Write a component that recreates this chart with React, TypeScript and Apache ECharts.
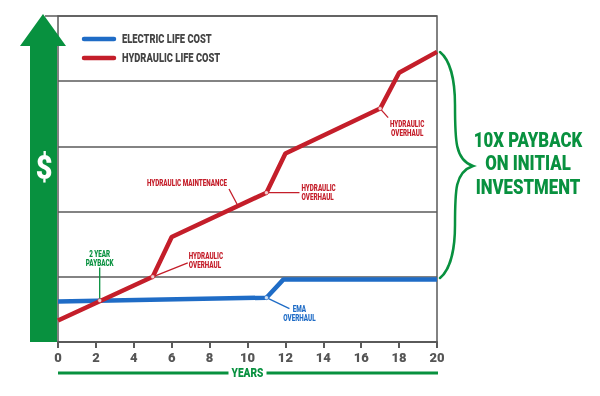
import React, { useEffect, useRef } from "react";
import * as echarts from "echarts";

const hydraulicX = [0, 5, 6, 11, 12, 17, 18, 20];
const hydraulicY = [0.33, 1.0, 1.61, 2.29, 2.89, 3.58, 4.13, 4.45];
const electricX = [0, 11, 11.9, 20];
const electricY = [0.62, 0.68, 0.96, 0.96];
const hydraulicMarkers = [1, 3, 5];
const electricMarkers = [1];
const paybackPoint = [2.2, 0.635];
const xTicks = [0, 2, 4, 6, 8, 10, 12, 14, 16, 18, 20];
const seriesNames = ["ELECTRIC LIFE COST", "HYDRAULIC LIFE COST"];

const RED = "#c41e2a";
const BLUE = "#1f6cc6";
const GREEN = "#08913f";
const GREY = "#5a5a5a";
const FONT = "Roboto, 'Liberation Sans', sans-serif";
const W = "900";

const bracePath =
  "M440,52 C450,60 455,80 455,105 C455,140 455,160 473,166 C455,172 455,190 455,225 C455,250 450,270 440,278";
echarts.graphic.registerShape("brace", echarts.graphic.extendPath(bracePath, {}) as any);

export default function App() {
  const ref = useRef<HTMLDivElement>(null);
  useEffect(() => {
    if (!ref.current) return;
    const chart = echarts.init(ref.current, null, { renderer: "svg" });
    const hData = hydraulicX.map((x, i) => [x, hydraulicY[i]]);
    const eData = electricX.map((x, i) => [x, electricY[i]]);
    chart.setOption({
      animation: false,
      grid: {
        left: 58,
        right: 163,
        top: 16,
        bottom: 54,
        show: true,
        borderColor: GREY,
        borderWidth: 1.5,
      },
      xAxis: {
        type: "value",
        min: 0,
        max: 20,
        interval: 2,
        axisLine: { lineStyle: { color: GREY, width: 2 } },
        axisTick: { show: true, length: 6, lineStyle: { color: GREY, width: 2 } },
        axisLabel: {
          margin: 9,
          fontFamily: FONT,
          fontWeight: W,
          fontSize: 13,
          color: "#555",
          formatter: (v: number) => (xTicks.includes(v) ? String(v) : ""),
        },
        splitLine: { show: false },
      },
      yAxis: {
        type: "value",
        min: 0,
        max: 5,
        interval: 1,
        axisLine: { show: false },
        axisTick: { show: false },
        axisLabel: { show: false },
        splitLine: { show: true, lineStyle: { color: GREY, width: 1.5 } },
      },
      series: [
        {
          name: seriesNames[0],
          type: "line",
          data: eData,
          symbol: "none",
          color: BLUE,
          lineStyle: { width: 4.5, color: BLUE },
          z: 3,
        },
        {
          name: seriesNames[1],
          type: "line",
          data: hData,
          symbol: "none",
          color: RED,
          lineStyle: { width: 4.5, color: RED },
          z: 4,
        },
        {
          type: "scatter",
          data: hydraulicMarkers.map((i) => hData[i]).concat([paybackPoint]),
          symbol: "circle",
          symbolSize: 4,
          itemStyle: { color: "#fff", borderColor: RED, borderWidth: 0.8 },
          z: 6,
        },
        {
          type: "scatter",
          data: electricMarkers.map((i) => eData[i]),
          symbol: "circle",
          symbolSize: 4,
          itemStyle: { color: "#fff", borderColor: BLUE, borderWidth: 0.8 },
          z: 6,
        },
      ],
    });

    const px = (p: number[]) => chart.convertToPixel({ gridIndex: 0 }, p) as number[];
    const text = (
      x: number,
      y: number,
      t: string,
      color: string,
      size: number,
      sx: number,
      align: string = "center",
      lineHeight?: number
    ) => ({
      type: "text",
      x,
      y,
      z: 20,
      scaleX: sx,
      style: {
        text: t,
        fill: color,
        font: `${W} ${size}px ${FONT}`,
        align,
        verticalAlign: "middle",
        lineHeight: lineHeight ?? size,
      },
    });
    const annText = (x: number, y: number, t: string, color: string, align: string = "center") =>
      text(x, y, t, color, 9, 0.7, align, 9);
    const annLine = (a: number[], b: number[], color: string) => ({
      type: "line",
      z: 5,
      shape: { x1: a[0], y1: a[1], x2: b[0], y2: b[1] },
      style: { stroke: color, lineWidth: 1.3 },
    });

    const pPay = px(paybackPoint);
    const pH5 = px(hData[1]);
    const pMaint = px([9.5, hydraulicY[2] + (hydraulicY[3] - hydraulicY[2]) * 0.7]);
    const pH11 = px(hData[3]);
    const pH17 = px(hData[5]);
    const pE11 = px(eData[1]);
    const xL = px([0, 0]);
    const xR = px([20, 0]);
    const yTop = px([0, 5]);

    const legendColors = [BLUE, RED];
    const legendItems = seriesNames.flatMap((name, i) => {
      const y = 39 + i * 19;
      return [
        {
          type: "line",
          z: 20,
          shape: { x1: 84, y1: y, x2: 114, y2: y },
          style: { stroke: legendColors[i], lineWidth: 4.5, lineCap: "round" },
        },
        text(122, y, name, "#444", 12, 0.78, "left"),
      ];
    });

    chart.setOption({
      graphic: [
        {
          type: "polygon",
          z: 10,
          shape: {
            points: [
              [43, 14],
              [66, 46],
              [57, 46],
              [57, xL[1]],
              [30, xL[1]],
              [30, 46],
              [20, 46],
            ],
          },
          style: { fill: GREEN },
        },
        {
          type: "line",
          z: 9,
          shape: { x1: 45, y1: yTop[1], x2: xL[0], y2: yTop[1] },
          style: { stroke: GREY, lineWidth: 1.5 },
        },
        text(44, 168, "$", "#fff", 34, 0.85),
        ...legendItems,
        {
          type: "line",
          z: 10,
          shape: { x1: xL[0], y1: 373, x2: xR[0] + 1, y2: 373 },
          style: { stroke: GREEN, lineWidth: 3 },
        },
        {
          type: "rect",
          z: 11,
          shape: { x: (xL[0] + xR[0]) / 2 - 19, y: 366, width: 38, height: 14 },
          style: { fill: "#fff" },
        },
        text((xL[0] + xR[0]) / 2, 373, "YEARS", GREEN, 13, 0.78),
        {
          type: "brace",
          x: 0,
          y: 0,
          z: 10,
          style: { stroke: GREEN, fill: "none", lineWidth: 2.5, lineCap: "round" },
        },
        text(528, 164, "10X PAYBACK\nON INITIAL\nINVESTMENT", GREEN, 20, 0.84, "center", 24),
        annLine(pPay, [pPay[0], pPay[1] - 33], GREEN),
        annText(pPay[0], pPay[1] - 42, "2 YEAR\nPAYBACK", GREEN),
        annLine(pH5, [pH5[0] + 35, pH5[1] - 14], RED),
        annText(pH5[0] + 36, pH5[1] - 16, "HYDRAULIC\nOVERHAUL", RED, "left"),
        annLine(pMaint, [pMaint[0] - 9, pMaint[1] - 17], RED),
        annText(187, pMaint[1] - 23, "HYDRAULIC MAINTENANCE", RED),
        annLine(pH11, [pH11[0] + 33, pH11[1]], RED),
        annText(pH11[0] + 35, pH11[1], "HYDRAULIC\nOVERHAUL", RED, "left"),
        annLine(pH17, [pH17[0] + 8, pH17[1] + 9], RED),
        annText(pH17[0] + 27, pH17[1] + 20, "HYDRAULIC\nOVERHAUL", RED),
        annLine(pE11, [pE11[0] + 23, pE11[1] + 11], BLUE),
        annText(pE11[0] + 33, pE11[1] + 16, "EMA\nOVERHAUL", BLUE),
      ],
    });
    return () => chart.dispose();
  }, []);
  return <div ref={ref} style={{ position: "fixed", left: 0, top: 0, width: 600, height: 396 }} />;
}
